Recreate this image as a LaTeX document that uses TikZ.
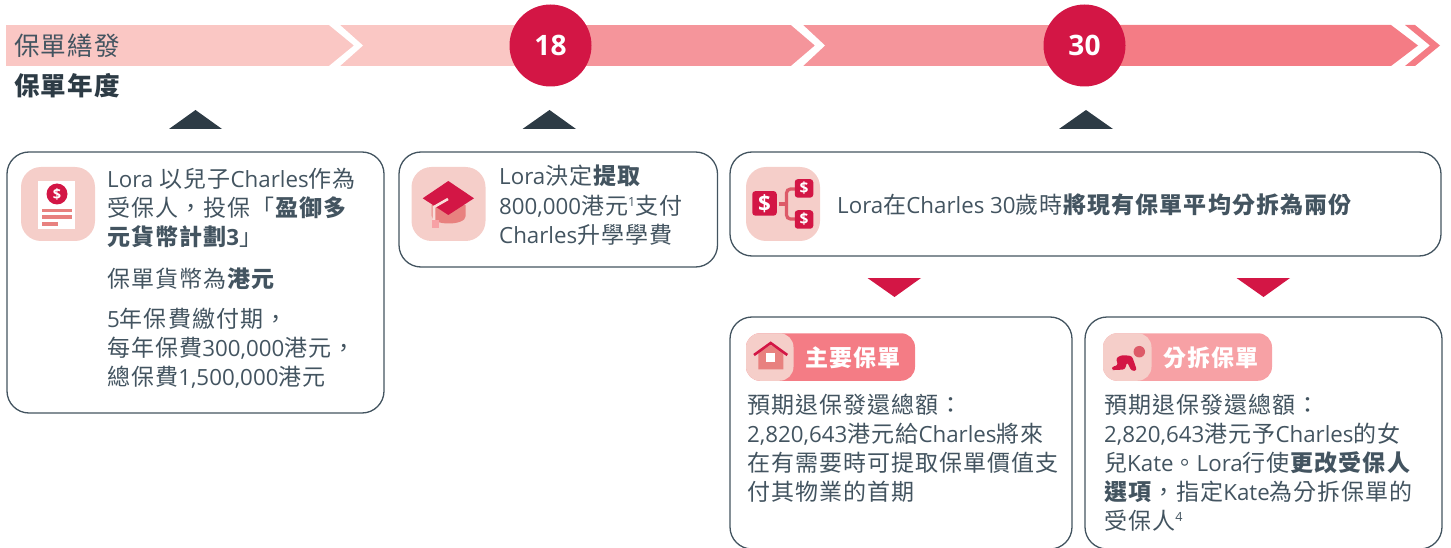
\documentclass[tikz,border=0pt]{standalone}
\usepackage{fontspec}
\usepackage{tikz}
\setmainfont{Noto Sans CJK TC}[LetterSpace=4.5]
\newfontfamily\engfont{Open Sans}[Scale=0.97]
\newcommand{\eng}[1]{{\engfont #1}}
\newcommand{\notemark}[1]{\raisebox{8pt}{\engfont\fontsize{13}{13}\selectfont #1}}

\definecolor{bandlight}{HTML}{FAC7C4}
\definecolor{bandmid}{HTML}{F5959B}
\definecolor{banddark}{HTML}{F47C85}
\definecolor{crimson}{HTML}{D31645}
\definecolor{slate}{HTML}{2D3B45}
\definecolor{bodygrey}{HTML}{435460}
\definecolor{iconpink}{HTML}{F5CEC9}
\definecolor{salmon}{HTML}{E8817F}
\definecolor{rose}{HTML}{DD5A68}
\definecolor{splitpink}{HTML}{F7A1A5}

\tikzset{
	cardbox/.style={draw=bodygrey,line width=1.3,rounded corners=22,inner sep=0},
	iconbox/.style={fill=iconpink,rounded corners=20,minimum size=74,inner sep=0},
	agedot/.style={circle,fill=crimson,minimum size=82,inner sep=0,text=white,font=\engfont\fontsize{29}{29}\bfseries\selectfont},
	bodytext/.style={anchor=north west,align=left,inner sep=0,text=bodygrey,font=\fontsize{23}{29.2}\selectfont},
	badgetext/.style={text=white,inner sep=0,font=\fontsize{23}{23}\bfseries\selectfont},
	dollar/.style={text=white,inner sep=0,font=\engfont\fontsize{#1}{#1}\bfseries\selectfont}
}

\begin{document}
\begin{tikzpicture}[x=1pt,y=-1pt]
		\useasboundingbox (0,0) rectangle (1451,548);
		% band
		\fill [bandlight] (6,25) rectangle (550,66);
		\fill [bandmid] (550,25) rectangle (1085,66);
		\fill [banddark] (1085,25) -- (1391,25) -- (1418,45.5) -- (1391,66) -- (1085,66) -- cycle;
		\fill [white] (329,25) -- (340,25) -- (363,45.5) -- (340,66) -- (329,66) -- (354,45.5) -- cycle;
		\fill [white] (791,25) -- (803,25) -- (825,45.5) -- (803,66) -- (791,66) -- (815,45.5) -- cycle;
		\fill [banddark] (1405,25) -- (1415,25) -- (1440,45.5) -- (1415,66) -- (1405,66) -- (1430,45.5) -- cycle;
		\node [agedot] (age18) at (550.5,45.5) {18};
		\node [agedot] (age30) at (1084.5,45.5) {30};
		\node [anchor=west,inner sep=0,text=bodygrey,font=\fontsize{25.6}{26}\selectfont] (bandtitle) at (14,45.5) {保單繕發};
		\node [anchor=west,inner sep=0,text=slate,font=\fontsize{25.6}{26}\bfseries\selectfont] (yeartitle) at (14,86) {保單年度};
		% markers
		\fill [slate] (169,129) -- (195.5,110) -- (222,129) -- cycle;
		\fill [slate] (522.5,129) -- (549.5,110) -- (576,129) -- cycle;
		\fill [slate] (1059,129) -- (1086,110) -- (1113,129) -- cycle;
		\fill [crimson] (867.5,278) -- (921,278) -- (894.5,297) -- cycle;
		\fill [crimson] (1236.5,278) -- (1290,278) -- (1263.5,297) -- cycle;
		% cards
		\node [cardbox,minimum width=377,minimum height=261] (plancard) at (195.5,282.5) {};
		\node [cardbox,minimum width=318.5,minimum height=115] (tuitioncard) at (558.25,209.5) {};
		\node [cardbox,minimum width=711,minimum height=104] (splitcard) at (1085.5,204) {};
		\node [cardbox,minimum width=342,minimum height=232] (maincard) at (901,433) {};
		\node [cardbox,minimum width=357,minimum height=232] (childcard) at (1263.5,433) {};
		% plan icon
		\node [iconbox] (planicon) at (58,204) {};
		\fill [white] (38,181) rectangle (75,229);
		\node [circle,fill=crimson,minimum size=21,inner sep=0] (plancoin) at (57,194) {};
		\node [dollar=15] (plansign) at (plancoin) {\$};
		\fill [salmon] (42,209) rectangle (71.5,212.5);
		\fill [salmon] (42,215.5) rectangle (71.5,219);
		\fill [salmon] (42,222) rectangle (58,226);
		% cap icon
		\node [iconbox] (capicon) at (448.5,204) {};
		\fill [salmon] (431.7,205) -- (465.7,205) -- (465.7,216) .. controls (465.7,226) and (431.7,226) .. (431.7,216) -- cycle;
		\fill [crimson] (422.7,198.3) -- (448.3,181) -- (474,198.3) -- (448.3,215) -- cycle;
		\draw [line width=2.6,color=iconpink!70!white] (448,199) -- (434,207) -- (434,221);
		\fill [splitpink] (432,220) rectangle (439,228);
		% split icon
		\node [iconbox] (spliticon) at (783,204) {};
		\draw [line width=3.2,color=rose,rounded corners=4] (795,189) -- (786.5,189) -- (786.5,219) -- (795,219);
		\draw [line width=3.2,color=rose] (779,204) -- (786.5,204);
		\node [fill=crimson,rounded corners=3,minimum size=24.5,inner sep=0] (bigsquare) at (764.5,203.4) {};
		\node [dollar=23] (bigsign) at (bigsquare) {\$};
		\node [fill=crimson,rounded corners=3,minimum size=18.5,inner sep=0] (topsquare) at (804,188.4) {};
		\node [dollar=16] (topsign) at (topsquare) {\$};
		\node [fill=crimson,rounded corners=3,minimum size=18.5,inner sep=0] (lowsquare) at (804,219.5) {};
		\node [dollar=16] (lowsign) at (lowsquare) {\$};
		% main badge
		\node [fill=banddark,rounded corners=14,minimum width=169,minimum height=47.5,inner sep=0] (mainbadge) at (830.5,357) {};
		\node [fill=iconpink,rounded corners=14,minimum width=47.5,minimum height=47.5,inner sep=0] (mainicon) at (769.75,357) {};
		\fill [salmon] (758.3,369.3) -- (758.3,353) -- (770.7,345) -- (783.3,353) -- (783.3,369.3) -- cycle;
		\draw [line width=2.6,color=crimson] (754,355) -- (770.7,343) -- (787.3,355);
		\fill [white] (766,353) rectangle (775,362);
		\node [badgetext] (maintitle) at (853,358) {主要保單};
		% child badge
		\node [fill=splitpink,rounded corners=14,minimum width=169,minimum height=47.5,inner sep=0] (childbadge) at (1187.5,357) {};
		\node [fill=iconpink,rounded corners=14,minimum width=48.5,minimum height=47.5,inner sep=0] (childicon) at (1127.25,357) {};
		\node [circle,fill=rose,minimum size=11.5,inner sep=0] (babyhead) at (1139.3,351.7) {};
		\fill [crimson,rounded corners=2.5] (1115,370) -- (1112,370) -- (1112,366.5) -- (1118,365.5) -- (1116,358) -- (1122,355) -- (1132,356) -- (1137,370.5) -- (1131.5,371) -- (1127,362) -- (1125,369.5) -- cycle;
		\node [badgetext] (childtitle) at (1211,358) {分拆保單};
		% card texts
		\node [bodytext] (plantext) at (107,168) {\eng{Lora} 以兒子\eng{Charles}作為\\受保人，投保「\textbf{盈御多}\\\textbf{元貨幣計劃\eng{3}}」};
		\node [bodytext] (currencytext) at (107,267.5) {保單貨幣為\textbf{港元}};
		\node [bodytext] (premiumtext) at (107,307.5) {\eng{5}年保費繳付期，\\每年保費\eng{300,000}港元，\\總保費\eng{1,500,000}港元};
		\node [bodytext] (tuitiontext) at (499,165) {\eng{Lora}決定\textbf{提取}\\\eng{800,000}港元\notemark{1}支付\\\eng{Charles}升學學費};
		\node [bodytext] (splittext) at (837,194) {\eng{Lora}在\eng{Charles 30}歲時\textbf{將現有保單平均分拆為兩份}};
		\node [bodytext] (maintext) at (747,393.5) {預期退保發還總額：\\\eng{2,820,643}港元給\eng{Charles}將來\\在有需要時可提取保單價值支\\付其物業的首期};
		\node [bodytext] (childtext) at (1104,393.5) {預期退保發還總額：\\\eng{2,820,643}港元予\eng{Charles}的女\\兒\eng{Kate}。\eng{Lora}行使\textbf{更改受保人}\\\textbf{選項}，指定\eng{Kate}為分拆保單的\\受保人\notemark{4}};
	\end{tikzpicture}
\end{document}
